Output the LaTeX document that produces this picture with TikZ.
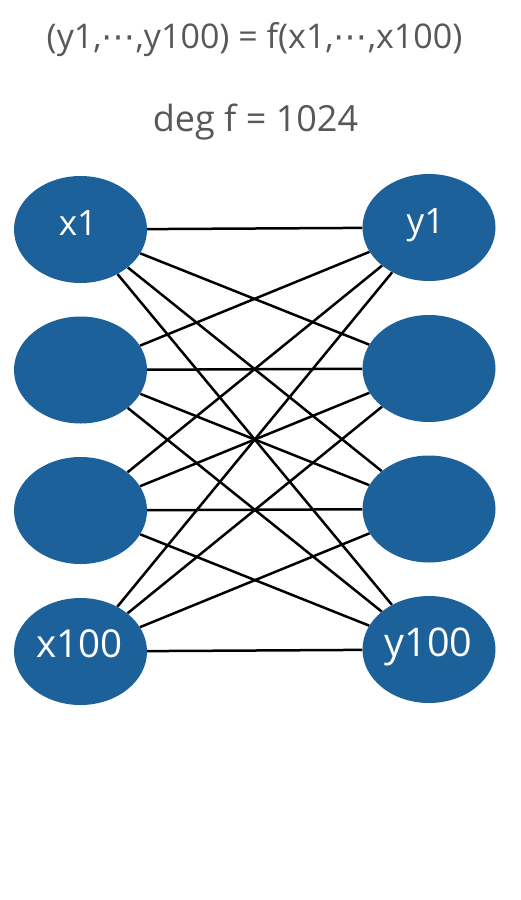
\documentclass[tikz,border=0pt]{standalone}
\usepackage{fontspec}
\setmainfont{Open Sans}
\newfontfamily\dejavu{DejaVu Sans}
\usetikzlibrary{shapes.geometric,backgrounds}
\definecolor{nodeblue}{RGB}{29,97,154}
\definecolor{textgray}{RGB}{88,88,88}
\tikzset{
  vnode/.style={ellipse, fill=nodeblue, minimum width=133pt, minimum height=107pt, inner sep=0pt},
  vlabel/.style={text=white, anchor=base, inner sep=0pt},
  edge/.style={line width=2.5pt, black},
  title/.style={text=textgray, anchor=base, inner sep=0pt}
}
\begin{document}
\begin{tikzpicture}[x=1pt,y=-1pt]
\useasboundingbox (0,0) rectangle (520,900);
\node[title, font=\fontsize{34}{40}\selectfont] (t1) at (254.5,48) {(y1,{\dejavu ⋯},y100) = f(x1,{\dejavu ⋯},x100)};
\node[title, font=\fontsize{36}{42}\selectfont] (t2) at (255.5,131) {deg f = 1024};
\node[vnode] (a1) at (80.5,229.5) {};
\node[vnode] (a2) at (80.5,370) {};
\node[vnode] (a3) at (80.5,510.5) {};
\node[vnode] (a4) at (80.5,651.5) {};
\node[vnode] (b1) at (429,227.5) {};
\node[vnode] (b2) at (429,368.5) {};
\node[vnode] (b3) at (429,509) {};
\node[vnode] (b4) at (429,649.5) {};
\node[vlabel, font=\fontsize{35}{40}\selectfont] (la1) at (78,235) {x1};
\node[vlabel, font=\fontsize{35}{40}\selectfont] (lb1) at (425.5,233) {y1};
\node[vlabel, font=\fontsize{38.5}{44}\selectfont] (la4) at (79.5,657) {x100};
\node[vlabel, font=\fontsize{39.5}{45}\selectfont] (lb4) at (428.5,656) {y100};
\begin{scope}[on background layer]
\foreach \i in {1,...,4}{
  \foreach \j in {1,...,4}{
    \draw[edge] (a\i) -- (b\j);
  }
}
\end{scope}
\end{tikzpicture}
\end{document}
